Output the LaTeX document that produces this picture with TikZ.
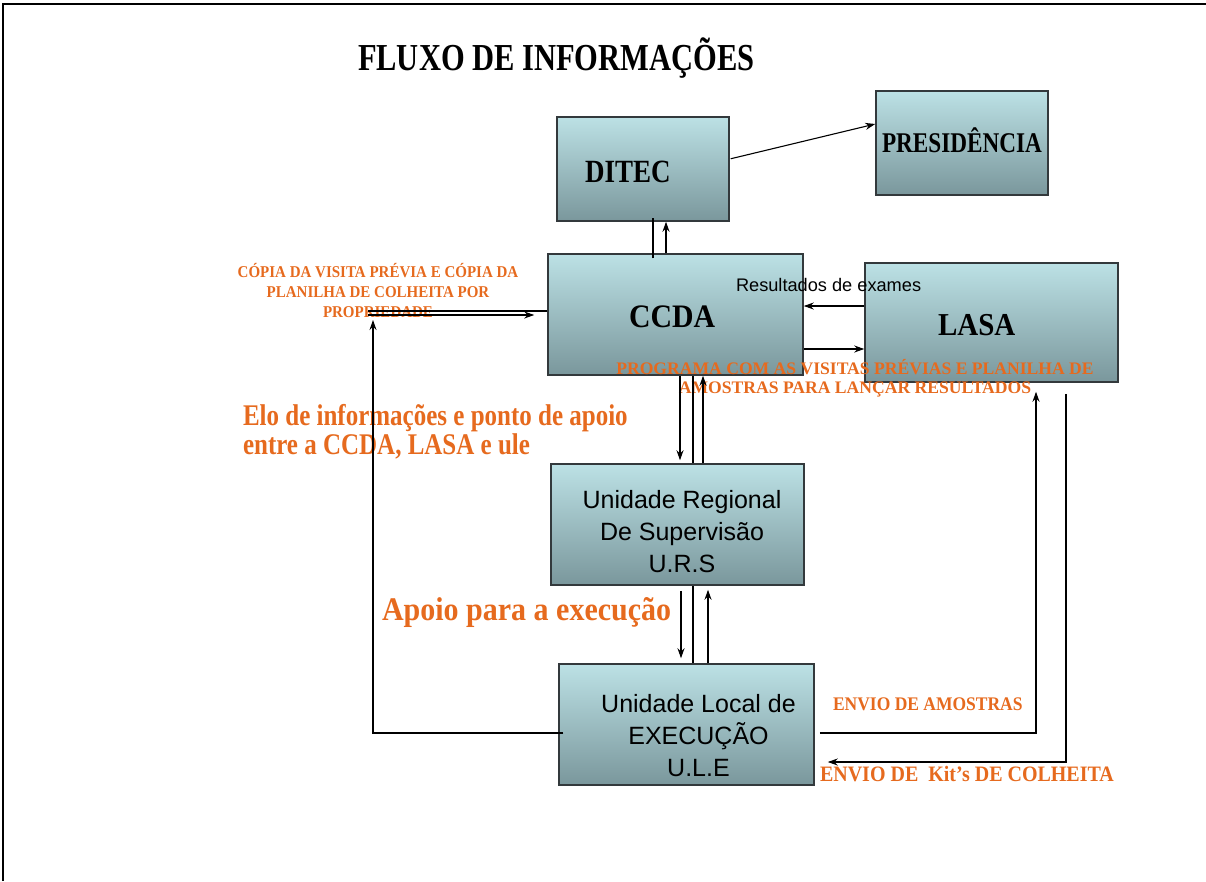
\documentclass[tikz,border=0pt]{standalone}
\usepackage{fontspec}
\usepackage{graphicx}
\setmainfont{Liberation Serif}
\newfontfamily\sansf{Liberation Sans}
\usetikzlibrary{arrows.meta}
\definecolor{orng}{HTML}{E66A1E}
\definecolor{boxtop}{HTML}{BCE1E5}
\definecolor{boxbot}{HTML}{7A979C}
\definecolor{boxline}{HTML}{33393C}
\newcommand\vstr[3][1.2]{\scalebox{1}[#1]{\begin{tabular}[t]{@{}#2@{}}#3\end{tabular}}}
\tikzset{
  box/.style={draw=boxline, line width=1.5pt, top color=boxtop, bottom color=boxbot, inner sep=0pt},
  arr/.style={-{Stealth[length=10pt,width=7pt]}, line width=1.1pt},
  ln/.style={line width=1.1pt},
  txt/.style={inner sep=0pt, outer sep=0pt},
  otxt/.style={txt, text=orng},
}
\begin{document}
\begin{tikzpicture}[x=1pt,y=-1pt]
\useasboundingbox (0,0) rectangle (1206,881);
\draw[line width=2pt] (3,881) -- (3,4) -- (1206,4);

% boxes
\node[box, minimum width=172pt, minimum height=104pt] (ditec) at (643,169) {};
\node[box, minimum width=172pt, minimum height=104pt] (pres) at (962,143) {};
\node[box, minimum width=255pt, minimum height=121pt] (ccda) at (675.5,314.5) {};
\node[box, minimum width=253pt, minimum height=119pt] (lasa) at (991.5,322.5) {};
\node[box, minimum width=253pt, minimum height=121pt] (urs) at (677.5,524.5) {};
\node[box, minimum width=255pt, minimum height=121pt] (ule) at (686.5,724.5) {};

% texts
\node[txt, anchor=base west, font=\fontsize{30.5}{36}\selectfont\bfseries] (title) at (358,70) {\vstr[1.25]{l}{FLUXO DE INFORMAÇÕES}};
\node[txt, anchor=base west, font=\fontsize{27}{30}\selectfont\bfseries] (ditect) at (585,182) {\vstr{l}{DITEC}};
\node[txt, anchor=base west, font=\fontsize{23.2}{28}\selectfont\bfseries] (prest) at (882,152) {\vstr[1.23]{l}{PRESIDÊNCIA}};
\node[txt, anchor=base west, font=\fontsize{29.8}{34}\selectfont\bfseries] (ccdat) at (629,327) {\vstr[1.1]{l}{CCDA}};
\node[txt, anchor=base west, font=\fontsize{29}{34}\selectfont\bfseries] (lasat) at (938,335) {\vstr[1.1]{l}{LASA}};
\node[txt, anchor=base west, font=\sansf\fontsize{18.2}{22}\selectfont] (res) at (736,291) {Resultados de exames};
\node[txt, anchor=base, font=\sansf\fontsize{25}{32}\selectfont] (urst) at (682,508) {\begin{tabular}[t]{@{}c@{}}Unidade Regional\\De Supervisão\\U.R.S\end{tabular}};
\node[txt, anchor=base, font=\sansf\fontsize{25}{32}\selectfont] (ulet) at (698.5,712) {\begin{tabular}[t]{@{}c@{}}Unidade Local de\\EXECUÇÃO\\U.L.E\end{tabular}};

\node[otxt, anchor=base, font=\fontsize{15}{18.2}\selectfont\bfseries] (copia) at (378,277.5) {\vstr[1.1]{c}{CÓPIA DA VISITA PRÉVIA E CÓPIA DA\\PLANILHA DE COLHEITA POR\\PROPRIEDADE}};
\node[otxt, anchor=base, font=\fontsize{17.6}{19}\selectfont\bfseries] (prog) at (855,374) {\vstr[1.0]{c}{PROGRAMA COM AS VISITAS PRÉVIAS E PLANILHA DE\\AMOSTRAS PARA LANÇAR RESULTADOS}};
\node[otxt, anchor=base west, font=\fontsize{25}{24.2}\selectfont\bfseries] (elo) at (243,425) {\vstr{l}{Elo de informações e ponto de apoio\\entre a CCDA, LASA e ule}};
\node[otxt, anchor=base west, font=\fontsize{30}{33}\selectfont\bfseries] (apoio) at (382,620) {\vstr[1.1]{l}{Apoio para a execução}};
\node[otxt, anchor=base west, font=\fontsize{17.5}{20}\selectfont\bfseries] (envam) at (833,710) {\vstr[1.1]{l}{ENVIO DE AMOSTRAS}};
\node[otxt, anchor=base west, font=\fontsize{20}{24}\selectfont\bfseries] (envkit) at (820,781.7) {\vstr[1.1]{l}{ENVIO DE\ \ Kit’s DE COLHEITA}};

% connectors
\draw[arr, shorten <=1pt] ([yshift=10pt]ditec.east) -- ([yshift=19pt]pres.west);

\coordinate (a1) at ([xshift=-22.5pt,yshift=-5pt]ccda.north);
\coordinate (a2) at ([xshift=-9.5pt]ccda.north);
\draw[ln] (a1) -- ([yshift=4pt]a1 |- ditec.south);
\draw[arr] (a2) -- (a2 |- ditec.south);

\coordinate (r1) at ([yshift=16.5pt]lasa.west);
\draw[arr] (r1) -- (r1 -| ccda.east);
\coordinate (p1) at ([yshift=-34.5pt]ccda.east);
\draw[arr] (p1) -- (p1 -| lasa.west);

\coordinate (d1) at ([xshift=4.5pt]ccda.south);
\coordinate (m1) at ([xshift=17.5pt]ccda.south);
\coordinate (u1) at ([xshift=27.5pt]ccda.south);
\draw[arr, shorten >=3pt] (d1) -- (d1 |- urs.north);
\draw[ln] (m1) -- (m1 |- urs.north);
\draw[arr] (u1 |- urs.north) -- (u1);

\coordinate (d2) at ([xshift=3.5pt]urs.south);
\coordinate (m2) at ([xshift=15.5pt]urs.south);
\coordinate (u2) at ([xshift=30.5pt]urs.south);
\draw[arr, shorten <=5pt, shorten >=5pt] (d2) -- (d2 |- ule.north);
\draw[ln] (m2) -- (m2 |- ule.north);
\draw[arr, shorten >=4pt] (u2 |- ule.north) -- (u2);

\coordinate (l1) at ([yshift=-8.5pt]ule.west);
\coordinate (l2) at (373,320);
\draw[arr, shorten <=-5pt] (l1) -- (l1 -| l2) -- (l2);

\coordinate (c1) at (368,311);
\coordinate (c2) at (368,315);
\draw[ln] (c1 -| ccda.west) -- (c1);
\draw[arr, shorten >=13pt] (c2) -- (c2 -| ccda.west);

\coordinate (e1) at ([yshift=-8.5pt]ule.east);
\coordinate (e2) at ([xshift=44.5pt]lasa.south);
\draw[arr, shorten <=5pt, shorten >=9pt] (e1) -- (e1 -| e2) -- (e2);

\coordinate (k1) at ([xshift=74.5pt]lasa.south);
\coordinate (k2) at ([yshift=-37.5pt]ule.east);
\draw[arr, shorten <=11pt, shorten >=13pt] (k1) -- (k1 |- k2) -- (k2);
\end{tikzpicture}
\end{document}
